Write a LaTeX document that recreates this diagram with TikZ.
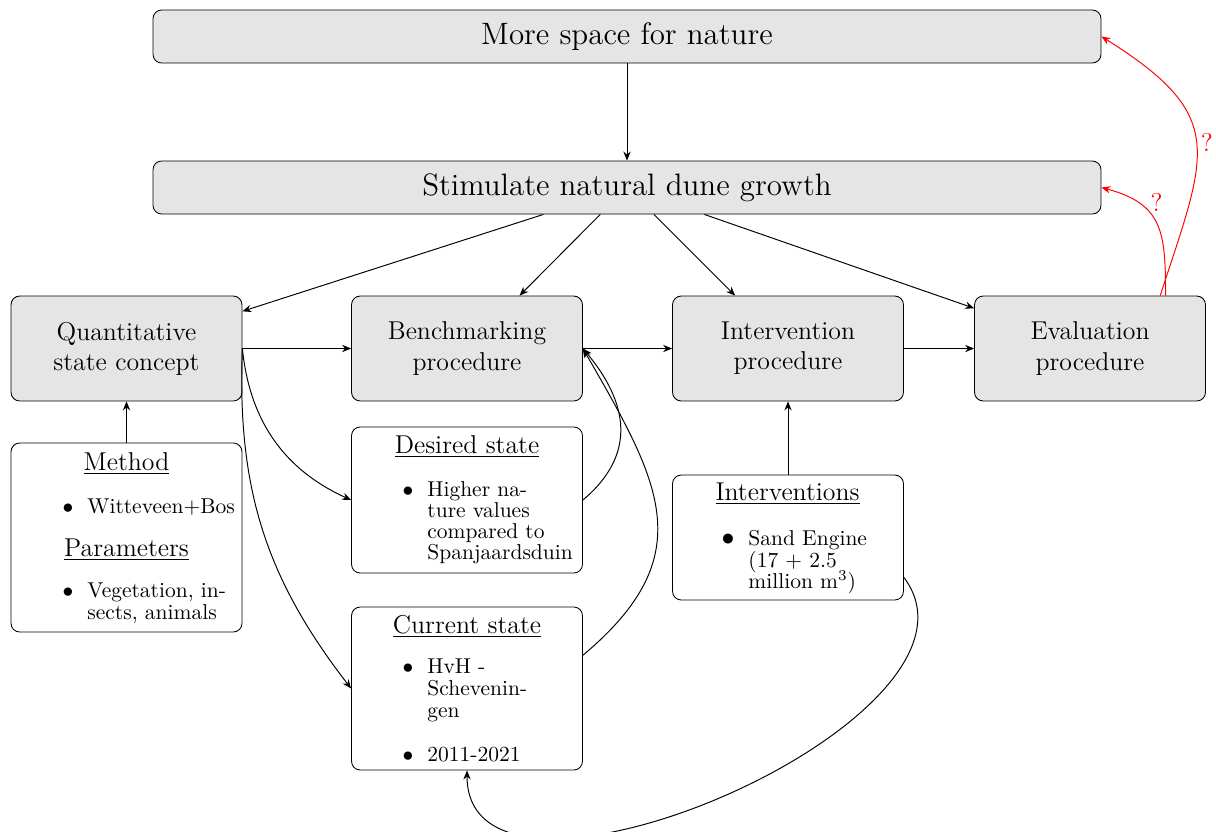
\documentclass[tikz,border=0pt]{standalone}
\usetikzlibrary{arrows.meta}
\begin{document}
\begin{tikzpicture}[x=0.4651pt,y=-0.4651pt,
  >={Stealth[length=4.2pt, width=3.4pt, inset=1.4pt]},
  banner/.style={draw, rounded corners=4pt, fill=black!10, minimum width=440.9pt,
    minimum height=24.65pt, inner sep=0pt, font=\Large},
  proc/.style={draw, rounded corners=4pt, fill=black!10, minimum width=107.4pt,
    minimum height=48.8pt, inner sep=0pt, align=center, font=\large},
  info/.style={draw, rounded corners=4pt, fill=white, minimum width=107.4pt, inner sep=0pt},
  head/.style={anchor=base, inner sep=0pt, font=\large},
  dot/.style={anchor=base, inner sep=0pt},
  item/.style={anchor=base west, inner sep=0pt},
  link/.style={->, line width=0.45pt},
  query/.style={->, line width=0.45pt, red},
  qmark/.style={text=red, font=\large}]
\useasboundingbox (0,0) rectangle (1216,831);

% goals
\node[banner] (more) at (627,36.5) {More space for nature};
\node[banner] (stim) at (627,187.5) {Stimulate natural dune growth};

% procedure chain
\node[proc] (quant) at (126.5,348.5) {Quantitative\\state concept};
\node[proc] (bench) at (467,348.5) {Benchmarking\\procedure};
\node[proc] (interp) at (788,348.5) {Intervention\\procedure};
\node[proc] (evalp) at (1090,348.5) {Evaluation\\procedure};

% detail boxes
\node[info, minimum height=87.9pt] (method) at (126.5,537.5) {};
\node[info, minimum height=67.9pt] (desired) at (467,500) {};
\node[info, minimum height=75.8pt] (current) at (467,688.5) {};
\node[info, minimum height=58.1pt] (interv) at (788,537.5) {};

% method box text
\node[head] (mh1) at (126.5,470) {\underline{Method}};
\node[dot] (mb1) at (68,513) {$\bullet$};
\node[item] (mt1) at (87,513) {Witteveen+Bos};
\node[head] (mh2) at (126.5,556) {\underline{Parameters}};
\node[dot] (mb2) at (68,597) {$\bullet$};
\node[item] (mt2) at (87,597) {Vegetation, in-};
\node[item] (mt3) at (87,619) {sects, animals};

% desired state text
\node[head] (dh) at (467,453) {\underline{Desired state}};
\node[dot] (db1) at (408,496) {$\bullet$};
\node[item] (dt1) at (427,496) {Higher na-};
\node[item] (dt2) at (427,517) {ture values};
\node[item] (dt3) at (427,538) {compared to};
\node[item] (dt4) at (427,559) {Spanjaardsduin};

% current state text
\node[head] (ch) at (467,633) {\underline{Current state}};
\node[dot] (cb1) at (408,673) {$\bullet$};
\node[item] (ct1) at (427,673) {HvH -};
\node[item] (ct2) at (427,695) {Schevenin-};
\node[item] (ct3) at (427,717) {gen};
\node[dot] (cb2) at (408,761) {$\bullet$};
\node[item] (ct4) at (427,761) {2011-2021};

% interventions text
\node[head] (ih) at (787.5,500) {\underline{Interventions}};
\node[dot, font=\large] (ib1) at (728,545) {$\bullet$};
\node[item] (it1) at (748,545) {Sand Engine};
\node[item] (it2) at (748,567) {(17 + 2.5};
\node[item] (it3) at (748,588) {million m$^3$)};

% straight connectors
\draw[link] (more) -- (stim);
\draw[link] (stim) -- (quant);
\draw[link] (stim) -- (bench);
\draw[link] (stim) -- (interp);
\draw[link] (stim) -- (evalp);
\draw[link] (quant) -- (bench);
\draw[link] (bench) -- (interp);
\draw[link] (interp) -- (evalp);
\draw[link] (method) -- (quant);
\draw[link] (interv) -- (interp);

% curved connectors
\draw[link] (quant.east) to[bend right=30] (desired.west);
\draw[link] (quant.east) to[bend right=20] (current.west);
\draw[link] (desired.east) to[out=40, in=-50, looseness=1.2] (bench.east);
\draw[link] (current.16) to[out=40, in=-60, looseness=1.3] (bench.east);
\draw[link] (interv.-19) to[out=-53, in=-90, out distance=82.7pt, in distance=83.7pt] (current.south);

% open questions
\draw[query] (evalp.35) to[out=90, in=-15, looseness=1.3]
  node[qmark, pos=0.62, anchor=south west, inner sep=0.5pt] {?} (stim.east);
\draw[query] (evalp.37) to[out=72, in=-32, looseness=1.45]
  node[qmark, midway, right, inner sep=2pt] {?} (more.east);
\end{tikzpicture}
\end{document}
